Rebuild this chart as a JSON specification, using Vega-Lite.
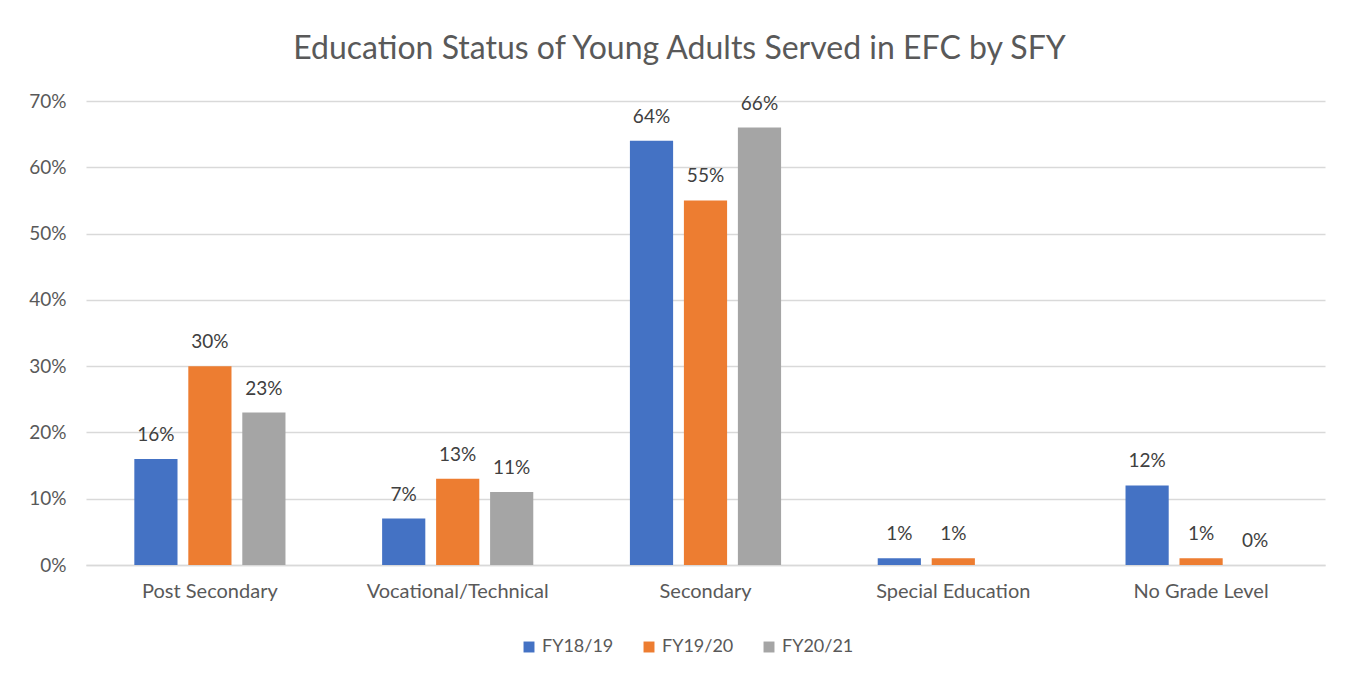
{
  "$schema": "https://vega.github.io/schema/vega-lite/v6.json",
  "width": 1239,
  "height": 464,
  "autosize": {"type": "none"},
  "padding": {"left": 86, "top": 101, "right": 27, "bottom": 111},
  "background": "white",
  "config": {"view": {"stroke": null}},
  "title": {
    "text": "Education Status of Young Adults Served in EFC by SFY",
    "font": "Lato",
    "fontSize": 32,
    "fontWeight": "normal",
    "color": "#595959",
    "anchor": "middle",
    "dx": -26,
    "offset": 26
  },
  "data": {
    "values": [
      {"category": "Post Secondary", "year": "FY18/19", "value": 0.16},
      {"category": "Post Secondary", "year": "FY19/20", "value": 0.30},
      {"category": "Post Secondary", "year": "FY20/21", "value": 0.23},
      {"category": "Vocational/Technical", "year": "FY18/19", "value": 0.07},
      {"category": "Vocational/Technical", "year": "FY19/20", "value": 0.13},
      {"category": "Vocational/Technical", "year": "FY20/21", "value": 0.11},
      {"category": "Secondary", "year": "FY18/19", "value": 0.64},
      {"category": "Secondary", "year": "FY19/20", "value": 0.55},
      {"category": "Secondary", "year": "FY20/21", "value": 0.66},
      {"category": "Special Education", "year": "FY18/19", "value": 0.01},
      {"category": "Special Education", "year": "FY19/20", "value": 0.01},
      {"category": "No Grade Level", "year": "FY18/19", "value": 0.12},
      {"category": "No Grade Level", "year": "FY19/20", "value": 0.01},
      {"category": "No Grade Level", "year": "FY20/21", "value": 0.0}
    ]
  },
  "encoding": {
    "x": {
      "field": "category",
      "type": "nominal",
      "sort": null,
      "title": null,
      "scale": {"paddingInner": 0.39, "paddingOuter": 0.195},
      "axis": {
        "labelAngle": 0,
        "labelFont": "Lato",
        "labelFontSize": 20,
        "labelColor": "#595959",
        "labelPadding": 16,
        "labelLimit": 0,
        "ticks": false,
        "domainColor": "#d9d9d9",
        "domainWidth": 1.5
      }
    },
    "xOffset": {
      "field": "year",
      "type": "nominal",
      "scale": {"paddingInner": 0.2, "paddingOuter": 0}
    },
    "y": {
      "field": "value",
      "type": "quantitative",
      "title": null,
      "scale": {"domain": [0, 0.7]},
      "axis": {
        "format": ".0%",
        "values": [0, 0.1, 0.2, 0.3, 0.4, 0.5, 0.6, 0.7],
        "labelFont": "Lato",
        "labelFontSize": 19,
        "labelColor": "#595959",
        "labelPadding": 20,
        "ticks": false,
        "domain": false,
        "gridColor": "#d9d9d9",
        "gridWidth": 1.5
      }
    }
  },
  "layer": [
    {
      "mark": {"type": "bar"},
      "encoding": {
        "color": {
          "field": "year",
          "type": "nominal",
          "title": null,
          "scale": {
            "domain": ["FY18/19", "FY19/20", "FY20/21"],
            "range": ["#4472c4", "#ed7d31", "#a5a5a5"]
          },
          "legend": {
            "orient": "none",
            "legendX": 434,
            "legendY": 537,
            "direction": "horizontal",
            "symbolType": "square",
            "symbolSize": 120,
            "symbolStrokeWidth": 0,
            "labelFont": "Lato",
            "labelFontSize": 18,
            "labelColor": "#595959",
            "columnPadding": 26
          }
        }
      }
    },
    {
      "mark": {
        "type": "text",
        "dy": -24,
        "font": "Lato",
        "fontSize": 19,
        "color": "#404040"
      },
      "encoding": {
        "text": {"field": "value", "type": "quantitative", "format": ".0%"}
      }
    }
  ]
}
